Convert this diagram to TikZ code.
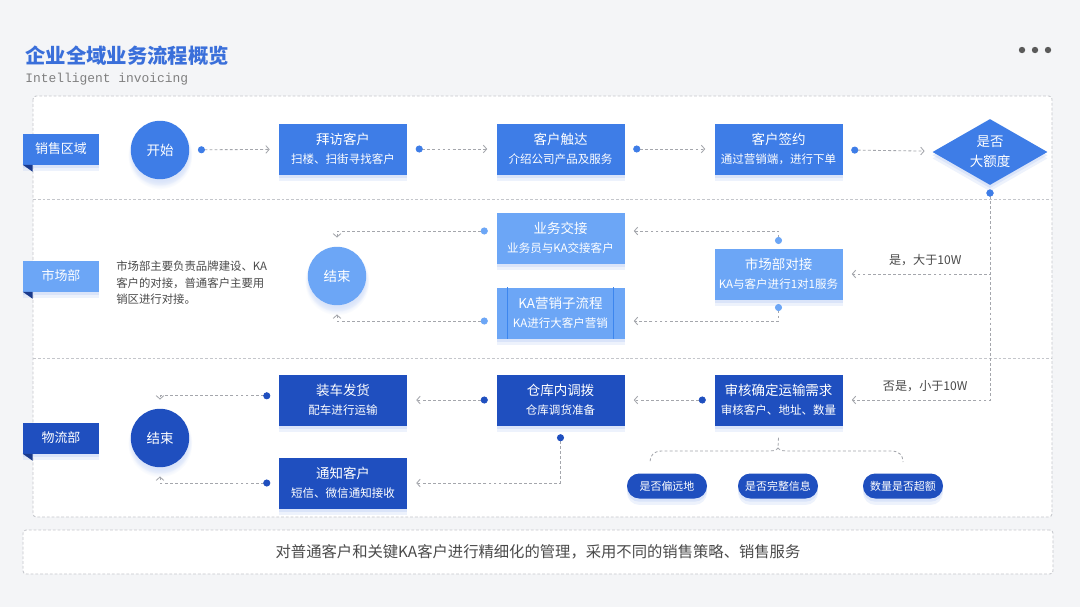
\documentclass[tikz,border=0pt]{standalone}
\usepackage{xcolor}
\usepackage{tikz}
\usepackage{fontspec}
\setmainfont{Noto Sans CJK SC}
\newfontfamily\latinmono{Liberation Mono}
\usetikzlibrary{shapes.geometric,shadows,arrows.meta}

\definecolor{pagegray}{HTML}{F4F5F7}
\definecolor{framegray}{HTML}{C4C6CB}
\definecolor{linegray}{HTML}{A4A6AC}
\definecolor{titleblue}{HTML}{3A6FDA}
\definecolor{salesblue}{HTML}{3E7DE7}
\definecolor{marketblue}{HTML}{6CA6F6}
\definecolor{logisticsblue}{HTML}{1F4FBF}
\definecolor{foldblue}{HTML}{1A3A8C}
\definecolor{subline}{HTML}{3D86EE}
\definecolor{glowblue}{HTML}{B8CCF6}
\definecolor{textgray}{HTML}{4A4A4A}
\definecolor{dotgray}{HTML}{5A5A5A}

\newcommand{\headline}[1]{{\fontsize{9.6pt}{13.5pt}\selectfont #1}}

\begin{document}
\begin{tikzpicture}[x=0.25mm, y=-0.25mm]
    % Define styles
    \tikzset{
        glow/.style={drop shadow={fill=glowblue, opacity=0.25, shadow xshift=0pt, shadow yshift=-1.6mm},
                     drop shadow={fill=glowblue, opacity=0.35, shadow xshift=0pt, shadow yshift=-0.8mm}},
        roundglow/.style={circular drop shadow={fill=glowblue, opacity=0.25, shadow xshift=0pt, shadow yshift=-1.6mm},
                          circular drop shadow={fill=glowblue, opacity=0.35, shadow xshift=0pt, shadow yshift=-0.8mm}},
        procbox/.style={rectangle, minimum width=32mm, minimum height=12.75mm, inner sep=0pt, text=white, align=center, font=\fontsize{8.2pt}{13.5pt}\selectfont, glow},
        roundnode/.style={circle, minimum size=14.6mm, inner sep=0pt, text=white, font=\fontsize{9.6pt}{11pt}\selectfont, roundglow},
        lanetag/.style={rectangle, minimum width=19mm, minimum height=7.75mm, inner sep=0pt, text=white, font=\fontsize{9.2pt}{11pt}\selectfont, glow},
        pill/.style={rectangle, rounded corners=3.1mm, minimum width=20mm, minimum height=6.25mm, inner sep=0pt, fill=logisticsblue, text=white, font=\fontsize{7.8pt}{9pt}\selectfont, glow},
        decision/.style={diamond, aspect=1.7, minimum width=28.75mm, minimum height=16.5mm, inner sep=0pt, fill=salesblue, text=white, align=center, font=\fontsize{9.6pt}{14pt}\selectfont, glow},
        label_text/.style={text=textgray, font=\fontsize{8.6pt}{10pt}\selectfont},
        frame/.style={draw=framegray, line width=0.6pt, dash pattern=on 2pt off 1.4pt},
        guide/.style={draw=linegray, line width=0.6pt, dash pattern=on 2pt off 1.6pt},
        flow/.style={guide, arrows={Circle[length=5pt, color=#1]-Straight Barb[length=2.4pt, width=5.5pt, color=linegray]}, shorten <=6pt, shorten >=6.4pt}
    }

    % Page and frames
    \fill[pagegray] (0,0) rectangle (1080,607);
    \useasboundingbox (0,0) rectangle (1080,607);
    \draw[frame, fill=white, rounded corners=0.8mm] (33,96) rectangle (1052,517);
    \draw[frame] (33,199) -- (1052,199);
    \draw[frame] (33,358) -- (1052,358);

    % Heading
    \node[anchor=west, inner sep=0pt, text=titleblue, font=\fontsize{14.5pt}{16pt}\selectfont\bfseries] (title) at (25,56) {企业全域业务流程概览};
    \node[anchor=west, inner sep=0pt, text=gray, font=\latinmono\fontsize{9.2pt}{11pt}\selectfont] (subtitle) at (25,79) {Intelligent invoicing};
    \fill[dotgray] (1022,50) circle (0.8mm);
    \fill[dotgray] (1035,50) circle (0.8mm);
    \fill[dotgray] (1048,50) circle (0.8mm);

    % Lane tags
    \node[lanetag, fill=salesblue] (sales_tag) at (61,149) {销售区域};
    \node[lanetag, fill=marketblue] (market_tag) at (61,276) {市场部};
    \node[lanetag, fill=logisticsblue] (logistics_tag) at (61,438) {物流部};
    \fill[foldblue] (sales_tag.south west) -- ++(10,0) -- ++(0,7) -- cycle;
    \fill[foldblue] (market_tag.south west) -- ++(10,0) -- ++(0,7) -- cycle;
    \fill[foldblue] (logistics_tag.south west) -- ++(10,0) -- ++(0,7) -- cycle;

    % Nodes: sales
    \node[roundnode, fill=salesblue] (start_node) at (160,150) {开始};
    \node[procbox, fill=salesblue] (visit) at (343,149) {\headline{拜访客户}\\扫楼、扫街寻找客户};
    \node[procbox, fill=salesblue] (reach) at (560.5,149) {\headline{客户触达}\\介绍公司产品及服务};
    \node[procbox, fill=salesblue] (sign) at (778.5,149) {\headline{客户签约}\\通过营销端，进行下单};
    \node[decision] (big_deal) at (990,152) {是否\\大额度};

    % Nodes: market
    \node[roundnode, fill=marketblue] (end_market) at (337,276) {结束};
    \node[procbox, fill=marketblue] (handover) at (560.5,238) {\headline{业务交接}\\业务员与KA交接客户};
    \node[procbox, fill=marketblue] (ka_flow) at (560.5,313) {\headline{KA营销子流程}\\KA进行大客户营销};
    \node[procbox, fill=marketblue] (market_link) at (778.5,274) {\headline{市场部对接}\\KA与客户进行1对1服务};
    \draw[subline, line width=0.8pt] ([xshift=2.75mm]ka_flow.north west) -- ([xshift=2.75mm]ka_flow.south west);
    \draw[subline, line width=0.8pt] ([xshift=-2.75mm]ka_flow.north east) -- ([xshift=-2.75mm]ka_flow.south east);
    \node[anchor=west, align=left, inner sep=0pt, text=textgray, font=\fontsize{8.1pt}{11.7pt}\selectfont] (market_note) at (116,283) {市场部主要负责品牌建设、KA\\客户的对接，普通客户主要用\\销区进行对接。};

    % Nodes: logistics
    \node[roundnode, fill=logisticsblue] (end_logistics) at (160,438) {结束};
    \node[procbox, fill=logisticsblue] (loading) at (343,400) {\headline{装车发货}\\配车进行运输};
    \node[procbox, fill=logisticsblue] (notify) at (343,483) {\headline{通知客户}\\短信、微信通知接收};
    \node[procbox, fill=logisticsblue] (warehouse) at (560.5,400) {\headline{仓库内调拨}\\仓库调货准备};
    \node[procbox, fill=logisticsblue] (audit) at (778.5,400) {\headline{审核确定运输需求}\\审核客户、地址、数量};
    \node[pill] (remote) at (667,486) {是否偏远地};
    \node[pill] (complete) at (778,486) {是否完整信息};
    \node[pill] (amount) at (903,486) {数量是否超额};

    % Summary
    \node[frame, fill=white, rounded corners=0.8mm, minimum width=257.5mm, minimum height=11mm, text=textgray, font=\fontsize{10.9pt}{13pt}\selectfont] (summary) at (538,552) {对普通客户和关键KA客户进行精细化的管理，采用不同的销售策略、销售服务};

    % Arrows: sales
    \draw[flow=salesblue] (start_node) -- (visit);
    \draw[flow=salesblue] (visit) -- (reach);
    \draw[flow=salesblue] (reach) -- (sign);
    \draw[flow=salesblue] (sign) -- (big_deal);
    \draw[flow=salesblue, shorten <=3pt] (big_deal.south) |- (market_link.east) node[pos=0.72, above=2pt, label_text] {是，大于10W};
    \draw[flow=salesblue, shorten <=3pt] (big_deal.south) |- (audit.east) node[pos=0.72, above=2pt, label_text] {否是，小于10W};

    % Arrows: market
    \draw[flow=marketblue, shorten <=3pt] (market_link.north) |- ([yshift=5pt]handover.east);
    \draw[flow=marketblue, shorten <=3pt] (market_link.south) |- ([yshift=-5.7pt]ka_flow.east);
    \draw[flow=marketblue] ([yshift=5pt]handover.west) -| (end_market.north);
    \draw[flow=marketblue] ([yshift=-5.7pt]ka_flow.west) -| (end_market.south);

    % Arrows: logistics
    \draw[flow=logisticsblue] (audit) -- (warehouse);
    \draw[flow=logisticsblue] (warehouse) -- (loading);
    \draw[flow=logisticsblue] ([yshift=3pt]loading.west) -| (end_logistics.north);
    \draw[flow=logisticsblue] (notify.west) -| (end_logistics.south);
    \draw[flow=logisticsblue] (warehouse.south) |- (notify.east);

    % Brace to checks
    \coordinate (brace_mid) at (778,448);
    \draw[guide] ([yshift=-8.5pt]audit.south) -- (brace_mid);
    \draw[guide] (brace_mid) .. controls (776,451) and (772,451) .. (765,451) -- (662,451) .. controls (654,451) and (650,455) .. (650,462);
    \draw[guide] (brace_mid) .. controls (780,451) and (784,451) .. (791,451) -- (891,451) .. controls (899,451) and (903,455) .. (903,462);
\end{tikzpicture}
\end{document}
